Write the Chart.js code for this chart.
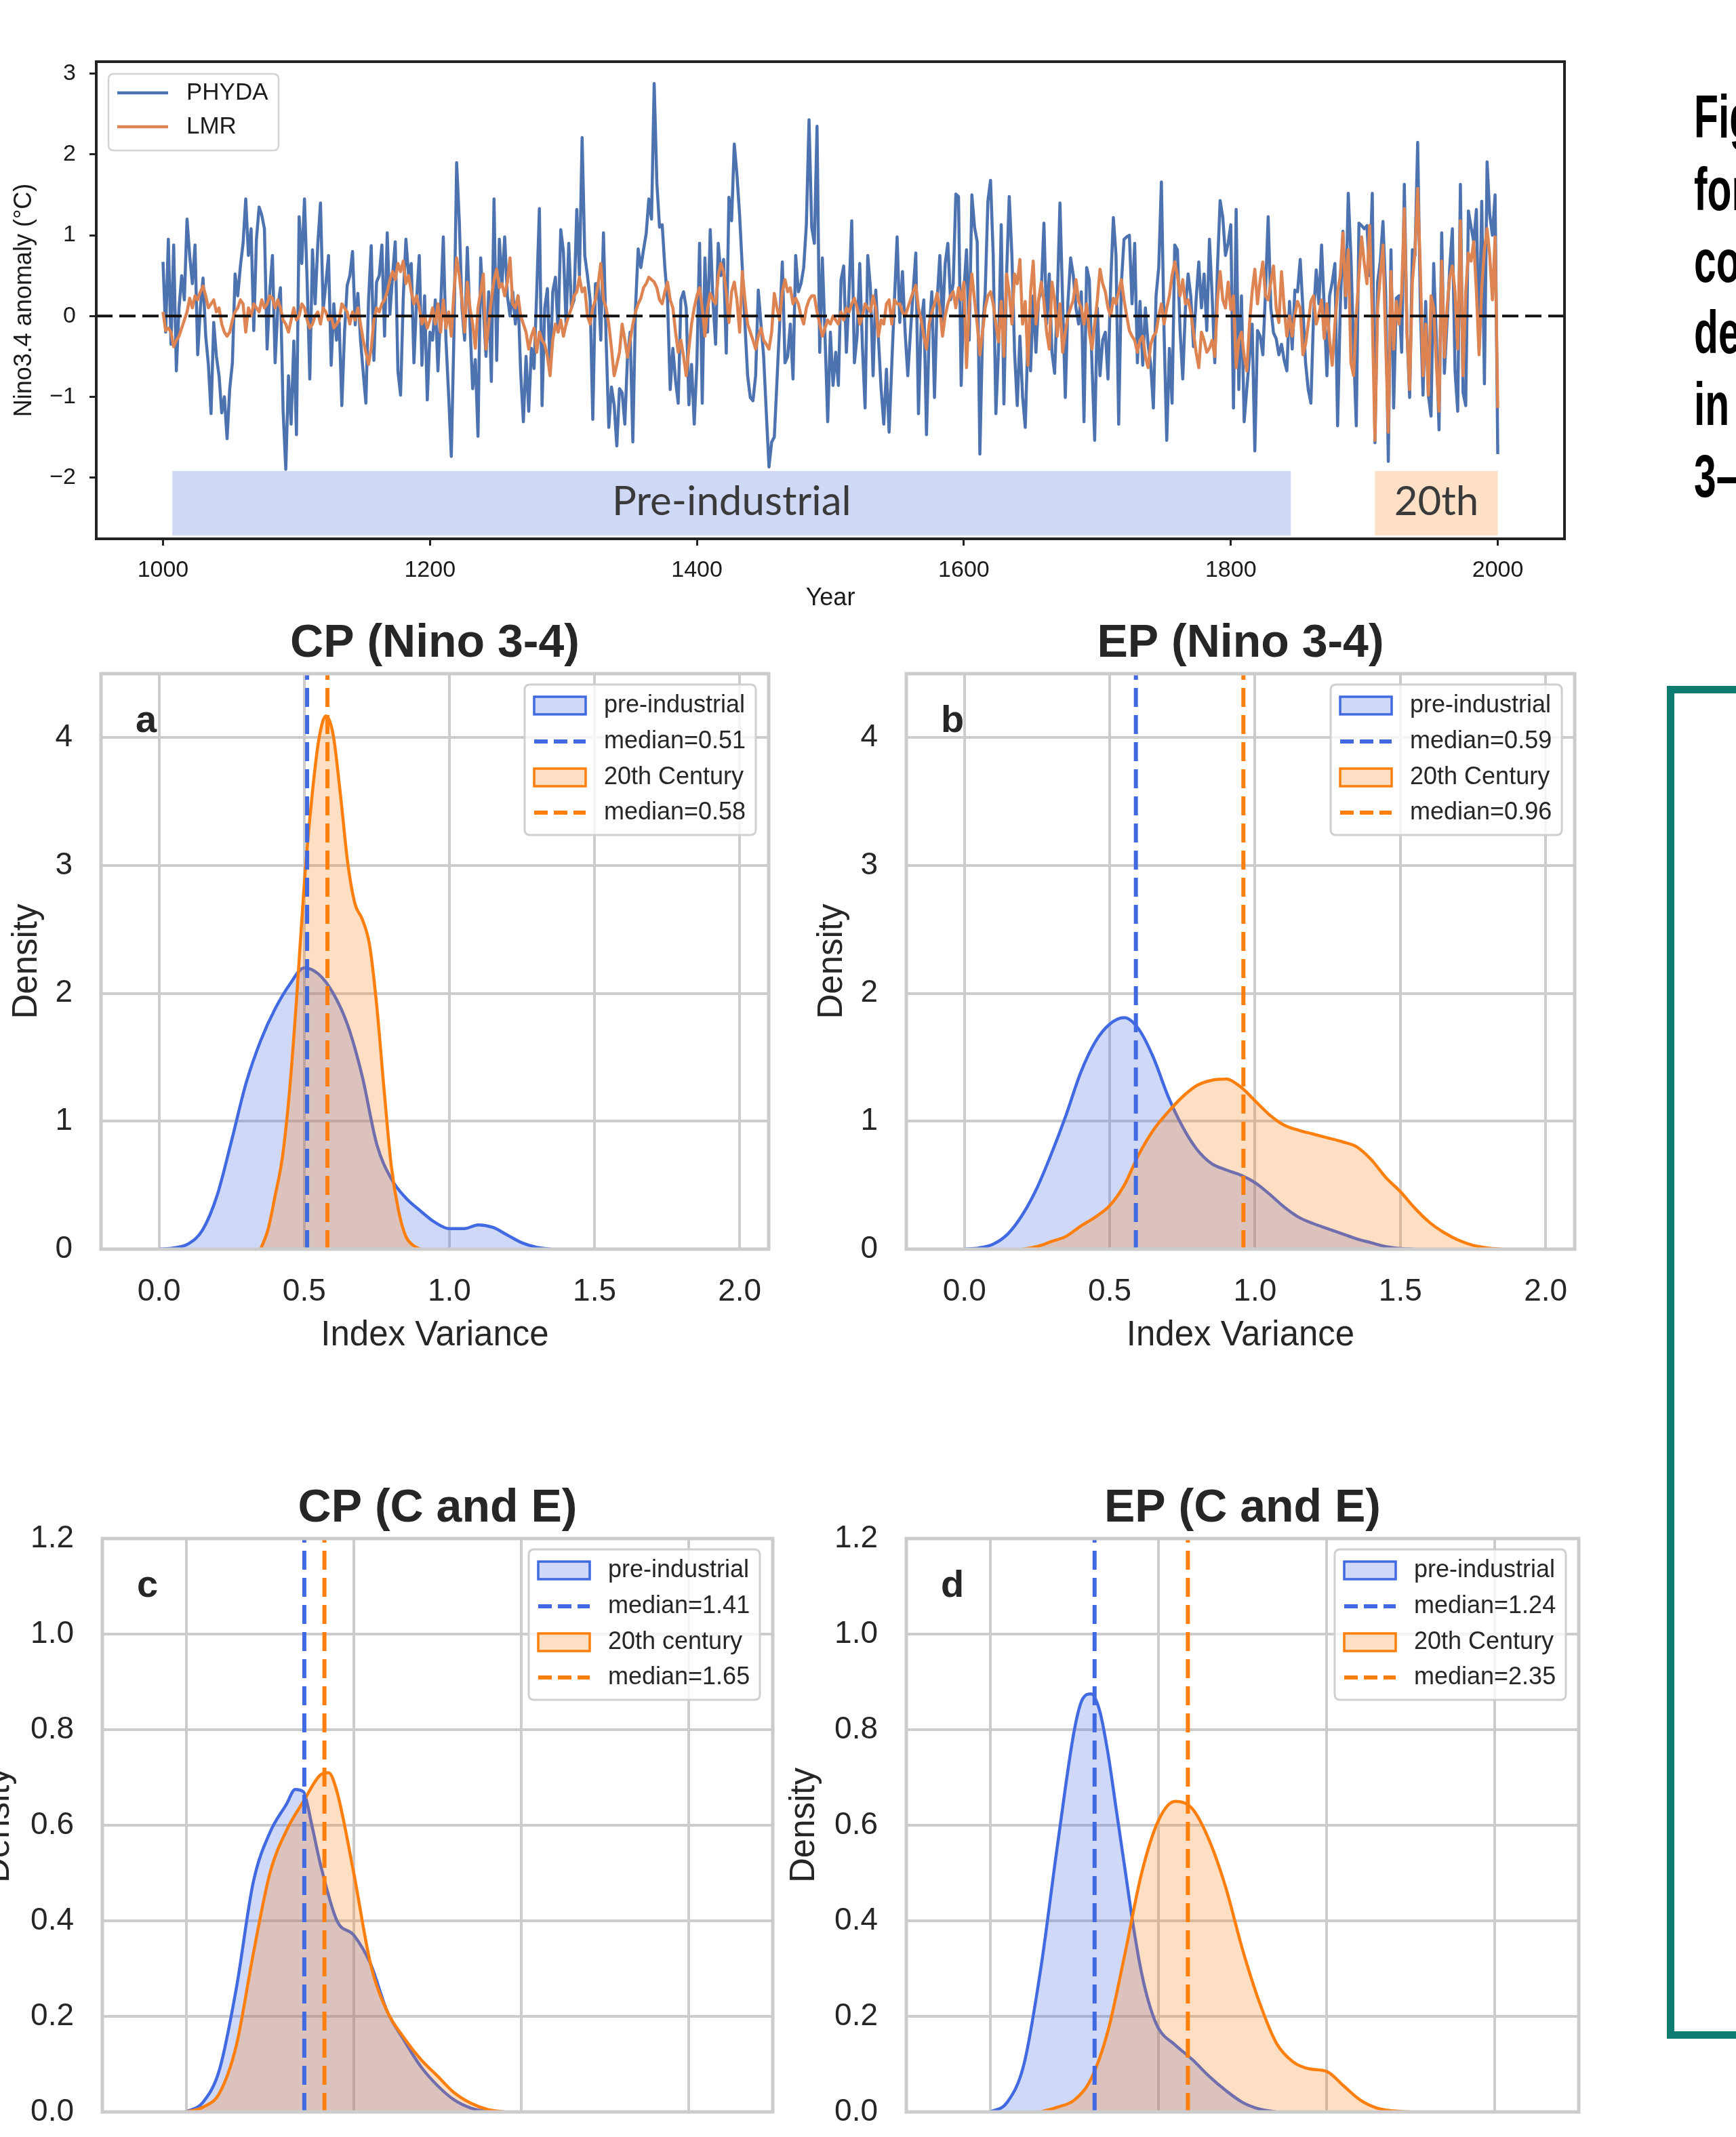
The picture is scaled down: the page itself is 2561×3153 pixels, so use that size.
<!DOCTYPE html>
<html lang="en">
<head>
<meta charset="UTF-8">
<title>Nino3.4 reconstructions and index variance</title>
<script src="https://cdn.jsdelivr.net/npm/chart.js"></script>
<style>
  html, body { margin: 0; padding: 0; background: #fff; overflow: hidden; }
  body { width: 2561px; height: 3153px; position: relative; }
  canvas { position: absolute; }
  .caption {
    position: absolute; left: 2499px; margin: 0;
    font-family: "Liberation Sans Narrow", "Liberation Sans", sans-serif;
    font-weight: bold; font-size: 84px; line-height: 84px; color: #000;
    white-space: nowrap; transform: scale(0.7, 1.05); transform-origin: 0 0;
  }
  #greenBox {
    position: absolute; left: 2459px; top: 1012px; width: 300px; height: 1996px;
    box-sizing: border-box; border: 11px solid #0d7c70;
  }
</style>
</head>
<body>
<canvas id="series" width="2330" height="905" style="left:0px;top:0px"></canvas>
<canvas id="panelA" width="1151" height="1102" style="left:9px;top:900px"></canvas>
<canvas id="panelB" width="1152" height="1102" style="left:1197px;top:900px"></canvas>
<canvas id="panelC" width="1192" height="1105" style="left:-32px;top:2170px"></canvas>
<canvas id="panelD" width="1193" height="1105" style="left:1156px;top:2170px"></canvas>

<div class="caption" style="top:128px">Fig</div>
<div class="caption" style="top:235px">for</div>
<div class="caption" style="top:341px">co</div>
<div class="caption" style="top:446px">de</div>
<div class="caption" style="top:552px">in</div>
<div class="caption" style="top:658px">3–</div>
<div id="greenBox"></div>

<script>
const FONT = '"Liberation Sans", Arial, sans-serif';
const TEXT = '#262626';

// ---- top panel: Nino3.4 anomaly, every 2 years from 1000
const firstYear = 1000;
const yearStep = 2;

const phyda1000 = [
  0.67, -0.2, 0.95, -0.35, 0.88, -0.68, 0.1, 0.5, 0.2, 1.2,
  0.75, 0.4, 0.88, -0.48, 0.1, 0.47, -0.25, -0.6, -1.21, -0.08,
  -0.5, -0.74, -1.2, -1.0, -1.52, -0.9, -0.58, 0.52, 0.25, 0.62,
  0.9, 1.45, 0.75, 1.08, -0.18, 0.95, 1.35, 1.25, 1.08, -0.41,
  0.3, 0.75, -0.58, 0.1, 0.35, -1.18, -1.9, -0.74, -1.34, -0.31,
  -1.47, 1.23, 0.65, 1.45, 0.42, -0.78, 0.82, 0.15, 0.9, 1.4,
  0.08, 0.4, 0.75, -0.61, 0.15, -0.3, -0.08, -1.11, -0.2, 0.38,
  0.5, 0.8, -0.11, 0.28, -0.3, -0.7, -1.08, 0.2, 0.87, -0.55,
  0.42, 0.5, 0.88, -0.25, 1.03, 0.02, 0.5, 0.92, -0.68, -0.98,
  0.22, 0.95, 0.5, 0.65, -0.58, 0.2, 0.75, -0.61, 0.25, -1.04,
  -0.2
];
const phyda1200 = [
  -0.3, 0.2, -0.68, 0.1, 0.98, -0.3, -0.98, -1.74, -0.2, 1.9,
  1.17, 0.1, -0.3, 0.85, -0.1, -0.9, -0.54, -1.49, 0.72, 0.1,
  -0.5, 0.3, -0.81, 1.45, -0.55, 0.95, 0.4, 0.98, 0.25, 0.0,
  0.3, -0.1, 0.25, -0.71, -1.31, -0.5, -1.18, -0.4, -0.65, 0.3,
  1.33, -1.11, 0.1, 0.34, -0.71, 0.3, 0.48, -0.2, 1.07, 0.8,
  -0.1, 0.9, 0.1, 0.2, 1.32, 0.5, 2.21, 0.75, 0.5, 0.2,
  -1.28, 0.4, 0.4, -0.3, 1.03, -0.3, -1.38, -0.88, -1.1, -1.61,
  -0.9, -0.95, -1.34, -0.5, -0.2, -1.56, 0.1, 0.83, 0.6, 0.82,
  1.02, 1.45, 1.2, 2.88, 1.65, 1.1, 1.13, 0.6, 0.2, -0.91,
  -0.4, -0.8, -1.08, 0.2, 0.3, 0.1, -1.1, -0.6, -1.34, -0.58
];
const phyda1400 = [
  0.9, -1.08, 0.72, -0.2, 1.07, 0.2, -0.35, 0.9, 0.5, 0.7,
  -0.46, 1.47, 1.18, 2.13, 1.75, 1.25, 0.6, -0.1, -0.74, -1.01,
  -1.05, -0.74, 0.32, -0.1, -0.5, -1.2, -1.87, -1.56, -1.5, -0.8,
  -0.1, 0.67, -0.58, -0.5, -0.1, -0.78, 0.75, 0.3, 0.4, 0.6,
  1.13, 2.43, 1.1, 0.9, 2.35, -0.45, 0.72, -0.25, -1.31, -0.2,
  -0.86, -0.45, -0.86, 0.45, 0.62, -0.45, 0.3, 1.18, -0.58, -0.25,
  0.65, -0.38, -1.14, 0.75, 0.35, -0.74, 0.32, -0.28, -0.9, -1.34,
  -0.66, -1.44, -0.6, 0.2, 0.98, -0.08, 0.55, -0.2, -0.74, -0.2,
  0.3, 0.78, -1.21, -0.1, 0.2, -1.47, -0.2, 0.3, -1.01, 0.2,
  0.75, -0.1, 0.65, 0.9, 0.2, 0.4, 1.51, 1.48, -0.86, 0.3
];
const phyda1600 = [
  0.82, -0.3, 1.5, 1.1, 0.92, -1.71, -0.2, 0.3, 1.42, 1.68,
  0.75, -1.21, -0.4, 1.13, -1.09, 0.5, 1.48, 0.75, -0.45, -1.11,
  -0.25, -1.0, -1.38, -0.25, -0.68, 0.25, -0.45, 0.2, 0.3, 1.15,
  -0.1, 0.52, -0.45, -0.71, 0.2, 1.4, 0.18, -1.01, 0.18, 0.72,
  0.5, 0.1, -0.1, 0.3, -1.31, 0.6, 0.45, -0.6, -1.54, 0.1,
  -0.74, -0.3, -0.2, -0.78, 0.4, 1.22, 0.75, -1.34, 0.4, 0.95,
  0.98, 1.0, 0.15, 0.9, -0.58, 0.18, -0.61, 0.1, -0.35, -0.6,
  -1.14, 0.25, 0.6, 1.66, -0.2, -1.54, -0.4, -1.08, 0.88, 0.82,
  -0.18, -0.78, 0.1, 0.52, 0.25, -0.38, 0.2, 0.67, 0.1, 0.52,
  -0.18, 0.95, 0.25, -0.58, 0.6, 1.43, 1.22, 0.75, 0.9, 1.13
];
const phyda1800 = [
  -1.14, 1.32, -0.91, 0.25, -1.31, -0.9, -0.5, -0.1, -1.67, -0.18,
  -0.25, -0.48, 0.3, 1.23, 0.1, -0.21, -0.28, -0.48, -0.35, -0.55,
  -0.68, 0.18, -0.41, 0.32, 0.3, 0.7, 0.1, -0.58, -0.91, -1.08,
  0.02, 0.57, 0.15, 0.88, 0.1, -0.74, 0.25, 0.42, 0.65, -1.36,
  0.1, 1.05, 0.1, 1.52, 0.73, -0.4, -1.36, 1.15, 1.12, 1.08,
  1.12, 0.5, 1.52, -1.57, 0.42, 0.68, 1.17, 0.3, -1.8, 0.82,
  -1.14, 0.22, 0.25, -0.45, 1.63, -0.2, -1.01, 0.82, 0.75, 2.15,
  0.1, -0.98, 0.18, -0.98, -1.24, 0.65, -0.3, -1.41, 1.03, -0.71,
  -0.08, 0.6, 1.08, -0.68, -1.18, 1.63, -0.95, -1.11, 1.3, 1.1,
  0.92, 1.32, -0.41, 1.42, -0.84, 1.91, 1.25, 1.0, 1.5, -1.71
];

const lmr1000 = [
  0.05, -0.18, -0.15, -0.2, -0.38, -0.3, -0.25, -0.15, -0.05, 0.05,
  0.22, 0.1, 0.25, 0.2, 0.3, 0.37, 0.25, 0.1, 0.15, 0.2,
  0.05, 0.1, -0.1, -0.2, -0.25, -0.2, -0.05, 0.05, 0.1, 0.2,
  0.15, -0.2, 0.1, 0.0, 0.15, 0.1, 0.05, 0.2, 0.1, 0.15,
  0.25, 0.22, 0.1, 0.2, 0.1, -0.05, -0.1, -0.2, -0.05, 0.1,
  -0.05, 0.0, 0.15, 0.1, -0.05, -0.15, -0.1, 0.0, 0.05, -0.1,
  0.1, 0.05, -0.05, 0.0, -0.15, -0.1, -0.05, 0.15, 0.1, 0.05,
  -0.1, 0.05, -0.05, 0.1, -0.1, -0.3, -0.45, -0.6, -0.4, -0.05,
  0.1, 0.05, 0.15, 0.2, 0.3, 0.45, 0.55, 0.45, 0.65, 0.55,
  0.68, 0.4, 0.5, 0.3, 0.15, 0.25, 0.1, -0.1, 0.0, -0.15,
  -0.05
];
const lmr1200 = [
  0.1, -0.1, 0.15, -0.2, 0.2, -0.15, 0.05, -0.25, 0.3, 0.72,
  0.5, 0.2, -0.2, 0.42, 0.1, -0.1, -0.4, 0.1, 0.3, 0.52,
  -0.41, -0.1, 0.2, 0.45, 0.58, 0.35, 0.4, 0.25, 0.42, 0.72,
  0.15, 0.1, 0.25, 0.0, -0.1, -0.2, -0.41, -0.25, -0.15, -0.45,
  -0.2, -0.3, -0.35, -0.5, -0.74, -0.3, -0.1, -0.2, -0.05, -0.25,
  -0.1, 0.0, 0.1, 0.25, 0.3, 0.48, 0.3, 0.35, 0.0, -0.1,
  0.1, 0.2, 0.4, 0.65, 0.2, 0.1, -0.1, -0.4, -0.74, -0.6,
  -0.45, -0.1, -0.3, -0.51, -0.3, -0.1, 0.05, 0.15, 0.22, 0.35,
  0.4, 0.48, 0.45, 0.42, 0.35, 0.2, 0.15, 0.3, 0.42, 0.2,
  0.1, -0.2, -0.45, -0.3, -0.5, -0.74, -0.4, -0.1, 0.1, 0.25
];
const lmr1400 = [
  0.35, 0.1, -0.25, 0.1, 0.28, 0.2, 0.15, 0.5, 0.65, 0.55,
  0.3, -0.08, 0.3, 0.42, 0.2, -0.2, 0.55, 0.2, -0.1, -0.2,
  -0.3, -0.41, -0.25, -0.15, -0.3, -0.35, -0.41, -0.2, 0.28, 0.1,
  -0.05, 0.3, 0.45, 0.3, 0.35, 0.15, 0.22, 0.15, 0.0, -0.1,
  0.1, 0.2, 0.25, 0.25, 0.05, -0.1, -0.25, -0.15, -0.05, -0.1,
  0.0, -0.05, -0.1, 0.05, -0.05, 0.1, 0.05, 0.15, 0.22, 0.1,
  -0.1, 0.0, 0.15, 0.1, 0.05, 0.25, 0.1, -0.25, -0.05, -0.1,
  0.15, 0.2, -0.1, 0.2, 0.15, 0.15, 0.05, 0.0, 0.1, 0.2,
  0.3, 0.38, 0.1, -0.05, -0.25, -0.41, -0.1, 0.05, 0.15, 0.28,
  0.1, -0.25, 0.0, 0.15, 0.25, 0.3, 0.1, 0.35, 0.2, 0.42
];
const lmr1600 = [
  -0.64, 0.12, 0.52, 0.2, -0.1, -0.48, -0.2, 0.1, 0.25, 0.3,
  0.15, -0.1, -0.32, 0.18, -0.5, 0.52, 0.3, -0.1, 0.52, 0.4,
  0.7, -0.1, 0.18, -0.61, 0.3, 0.68, -0.1, 0.2, 0.42, 0.18,
  -0.2, -0.41, 0.42, 0.2, -0.25, 0.15, -0.45, -0.2, 0.0, 0.1,
  0.2, 0.45, 0.18, 0.1, -0.1, 0.15, -0.2, -0.41, -0.1, 0.2,
  0.58, 0.4, 0.3, 0.1, 0.0, 0.22, 0.15, 0.3, 0.45, 0.2,
  0.0, -0.18, -0.25, -0.3, -0.45, -0.3, -0.25, -0.5, -0.64, -0.35,
  -0.25, -0.2, 0.0, 0.15, -0.1, 0.1, 0.25, 0.5, 0.67, 0.5,
  0.25, 0.45, 0.15, 0.2, 0.05, -0.2, -0.45, -0.64, -0.2, -0.3,
  -0.45, -0.4, -0.3, -0.5, 0.2, 0.55, 0.2, 0.1, 0.42, 0.08
];
const lmr1800 = [
  0.25, -0.64, -0.3, -0.2, -0.5, -0.68, -0.1, 0.3, 0.58, 0.15,
  0.45, 0.67, 0.25, 0.2, 0.42, 0.62, 0.1, -0.08, 0.55, 0.1,
  -0.25, 0.0, -0.25, 0.02, 0.18, 0.1, -0.48, -0.35, -0.1, 0.18,
  0.25, -0.1, 0.02, 0.2, -0.28, 0.15, -0.3, -0.61, -0.1, 0.3,
  0.5, 1.03, 0.25, 0.82, -0.58, -0.74, 0.0, 0.5, 0.98, 0.65,
  0.4, 1.12, 0.0, -1.54, 0.1, 0.5, 0.88, -0.3, -1.44, 0.55,
  -0.41, 0.18, -0.1, 0.3, 1.33, -0.2, -0.91, 0.42, 0.8, 1.58,
  0.58, -0.74, -0.1, -0.98, 0.25, 0.1, -0.6, -1.18, 0.68, -0.51,
  0.1, 0.48, 0.62, 0.3, -0.41, 1.18, -0.74, 0.3, 0.78, 0.68,
  0.92, 0.3, -0.48, 0.35, 0.82, 1.08, 0.75, 0.2, 0.98, -1.14
];

const phyda = phyda1000.concat(phyda1200, phyda1400, phyda1600, phyda1800);
const lmr = lmr1000.concat(lmr1200, lmr1400, lmr1600, lmr1800);

const yearTicks = [1000, 1200, 1400, 1600, 1800, 2000];
const anomalyTicks = [-2, -1, 0, 1, 2, 3];
const bandNames = ['Pre-industrial', '20th'];
const bandFrom = [1007, 1908];
const bandTo = [1845, 2000];

// ---- KDE panels (x = index variance, density)
const aPreX = [0, 0.05, 0.1, 0.15, 0.2, 0.25, 0.3, 0.35, 0.4, 0.45, 0.5, 0.55, 0.6, 0.65, 0.7, 0.75, 0.8, 0.85, 0.9, 0.95, 1.0, 1.05, 1.1, 1.15, 1.2, 1.25, 1.3, 1.35];
const aPreD = [0, 0.01, 0.04, 0.15, 0.42, 0.85, 1.3, 1.63, 1.88, 2.07, 2.2, 2.15, 2.0, 1.75, 1.35, 0.82, 0.55, 0.4, 0.3, 0.21, 0.16, 0.16, 0.19, 0.17, 0.11, 0.05, 0.015, 0];
const a20X = [0.35, 0.375, 0.4, 0.425, 0.45, 0.475, 0.5, 0.525, 0.55, 0.575, 0.6, 0.625, 0.65, 0.675, 0.7, 0.725, 0.75, 0.775, 0.8, 0.825, 0.85, 0.875, 0.9];
const a20D = [0, 0.15, 0.42, 0.72, 1.25, 2.0, 2.85, 3.5, 3.98, 4.17, 4.02, 3.55, 3.02, 2.7, 2.58, 2.38, 1.9, 1.25, 0.65, 0.3, 0.1, 0.03, 0];

const bPreX = [0, 0.05, 0.1, 0.15, 0.2, 0.25, 0.3, 0.35, 0.4, 0.45, 0.5, 0.55, 0.6, 0.65, 0.7, 0.75, 0.8, 0.85, 0.9, 0.95, 1.0, 1.05, 1.1, 1.15, 1.2, 1.25, 1.3, 1.35, 1.4, 1.45, 1.5, 1.55];
const bPreD = [0, 0.01, 0.04, 0.12, 0.27, 0.48, 0.75, 1.05, 1.38, 1.62, 1.76, 1.81, 1.72, 1.5, 1.2, 0.96, 0.78, 0.67, 0.62, 0.58, 0.52, 0.43, 0.33, 0.25, 0.2, 0.16, 0.12, 0.08, 0.05, 0.02, 0.005, 0];
const b20X = [0.2, 0.25, 0.3, 0.35, 0.4, 0.45, 0.5, 0.55, 0.6, 0.65, 0.7, 0.75, 0.8, 0.85, 0.9, 0.95, 1.0, 1.05, 1.1, 1.15, 1.2, 1.25, 1.3, 1.35, 1.4, 1.45, 1.5, 1.55, 1.6, 1.65, 1.7, 1.75, 1.8, 1.85];
const b20D = [0, 0.02, 0.06, 0.1, 0.18, 0.25, 0.34, 0.5, 0.74, 0.93, 1.07, 1.19, 1.28, 1.32, 1.33, 1.27, 1.16, 1.05, 0.97, 0.93, 0.9, 0.87, 0.84, 0.8, 0.7, 0.56, 0.45, 0.32, 0.21, 0.13, 0.07, 0.03, 0.01, 0];

const cPreX = [0, 0.2, 0.4, 0.6, 0.8, 1.0, 1.2, 1.3, 1.4, 1.5, 1.6, 1.8, 2.0, 2.2, 2.4, 2.6, 2.8, 3.0, 3.2, 3.4, 3.6];
const cPreD = [0, 0.02, 0.09, 0.26, 0.48, 0.585, 0.645, 0.675, 0.67, 0.6, 0.52, 0.4, 0.37, 0.31, 0.21, 0.15, 0.095, 0.055, 0.025, 0.008, 0];
const c20X = [0, 0.2, 0.4, 0.6, 0.8, 1.0, 1.2, 1.4, 1.6, 1.7, 1.8, 2.0, 2.2, 2.4, 2.6, 2.8, 3.0, 3.2, 3.4, 3.6, 3.8];
const c20D = [0, 0.01, 0.04, 0.14, 0.33, 0.5, 0.59, 0.65, 0.705, 0.71, 0.67, 0.5, 0.31, 0.21, 0.155, 0.11, 0.075, 0.04, 0.018, 0.005, 0];

const dPreX = [0, 0.2, 0.4, 0.6, 0.8, 1.0, 1.1, 1.2, 1.3, 1.4, 1.5, 1.6, 1.7, 1.8, 1.9, 2.0, 2.2, 2.4, 2.6, 2.8, 3.0, 3.2, 3.4];
const dPreD = [0, 0.02, 0.1, 0.3, 0.56, 0.8, 0.865, 0.875, 0.84, 0.75, 0.63, 0.51, 0.39, 0.29, 0.22, 0.175, 0.14, 0.11, 0.075, 0.045, 0.02, 0.006, 0];
const d20X = [0.6, 0.8, 1.0, 1.2, 1.4, 1.6, 1.8, 2.0, 2.2, 2.4, 2.6, 2.8, 3.0, 3.2, 3.4, 3.6, 3.8, 4.0, 4.2, 4.4, 4.6, 4.8, 5.0];
const d20D = [0, 0.01, 0.025, 0.07, 0.17, 0.33, 0.5, 0.61, 0.65, 0.635, 0.57, 0.47, 0.34, 0.23, 0.145, 0.105, 0.09, 0.085, 0.055, 0.025, 0.008, 0.002, 0];

const medians = { a: [0.51, 0.58], b: [0.59, 0.96], c: [1.41, 1.65], d: [1.24, 2.35] };
const varTicksTop = [0, 0.5, 1.0, 1.5, 2.0];
const varTicksBottom = [0, 2, 4, 6];
const densTicksTop = [0, 1, 2, 3, 4];
const densTicksBottom = [0, 0.2, 0.4, 0.6, 0.8, 1.0, 1.2];

const BLUE = '#4169e1';
const ORANGE = '#ff7f0e';
const BLUE_FILL = 'rgba(65,105,225,0.25)';
const ORANGE_FILL = 'rgba(255,127,14,0.25)';

const pts = (xs, ys) => xs.map((x, i) => ({ x: x, y: ys[i] }));
const yearly = vals => vals.map((v, i) => ({ x: firstYear + i * yearStep, y: v }));
const minus = v => (v < 0 ? '\u2212' + Math.abs(v) : String(v));

function roundBox(ctx, x, y, w, h, r) {
  ctx.beginPath();
  ctx.moveTo(x + r, y);
  ctx.lineTo(x + w - r, y);
  ctx.quadraticCurveTo(x + w, y, x + w, y + r);
  ctx.lineTo(x + w, y + h - r);
  ctx.quadraticCurveTo(x + w, y + h, x + w - r, y + h);
  ctx.lineTo(x + r, y + h);
  ctx.quadraticCurveTo(x, y + h, x, y + h - r);
  ctx.lineTo(x, y + r);
  ctx.quadraticCurveTo(x, y, x + r, y);
  ctx.closePath();
}

// bands, frame and legend of the time series
const seriesDecor = {
  id: 'seriesDecor',
  beforeDatasetsDraw(chart) {
    const { ctx, scales: { x, y } } = chart;
    const yTop = y.getPixelForValue(-1.92), yBot = y.getPixelForValue(-2.72);
    const colors = ['#cfd8f5', '#fde0c6'];
    ctx.save();
    bandNames.forEach((name, i) => {
      const x0 = x.getPixelForValue(bandFrom[i]), x1 = x.getPixelForValue(bandTo[i]);
      ctx.fillStyle = colors[i];
      ctx.fillRect(x0, yTop, x1 - x0, yBot - yTop);
      ctx.fillStyle = '#3a3a3a';
      ctx.font = '60px Lato, "Open Sans", sans-serif';
      ctx.textAlign = 'center';
      ctx.textBaseline = 'middle';
      ctx.fillText(name, (x0 + x1) / 2, (yTop + yBot) / 2 - 2);
    });
    ctx.restore();
  },
  afterDraw(chart) {
    const { ctx, chartArea: a } = chart;
    ctx.save();
    ctx.strokeStyle = '#222';
    ctx.lineWidth = 4;
    ctx.strokeRect(a.left, a.top, a.right - a.left, a.bottom - a.top);

    const bx = a.left + 18, by = a.top + 18;
    roundBox(ctx, bx, by, 251, 113, 8);
    ctx.fillStyle = 'rgba(255,255,255,0.85)';
    ctx.fill();
    ctx.strokeStyle = '#d4d4d4';
    ctx.lineWidth = 2.5;
    ctx.stroke();
    [['PHYDA', '#4c72b0'], ['LMR', '#dd8452']].forEach(([name, col], i) => {
      const ry = by + 28 + i * 50;
      ctx.strokeStyle = col;
      ctx.lineWidth = 4.5;
      ctx.beginPath();
      ctx.moveTo(bx + 13, ry);
      ctx.lineTo(bx + 88, ry);
      ctx.stroke();
      ctx.fillStyle = '#1a1a1a';
      ctx.font = '35px ' + FONT;
      ctx.textAlign = 'left';
      ctx.textBaseline = 'middle';
      ctx.fillText(name, bx + 115, ry);
    });
    ctx.restore();
  }
};

new Chart(document.getElementById('series'), {
  type: 'line',
  data: {
    datasets: [
      { label: 'zero', data: [{ x: 950, y: 0 }, { x: 2050, y: 0 }], borderColor: '#111', borderWidth: 4, borderDash: [24, 10], order: 0 },
      { label: 'LMR', data: yearly(lmr), borderColor: '#dd8452', borderWidth: 4.5, order: 1 },
      { label: 'PHYDA', data: yearly(phyda), borderColor: '#4c72b0', borderWidth: 4.5, order: 2 }
    ]
  },
  options: {
    responsive: false,
    animation: false,
    devicePixelRatio: 1,
    layout: { padding: { left: 0, right: 22, top: 91, bottom: 0 } },
    elements: { point: { radius: 0 }, line: { tension: 0, borderJoinStyle: 'round' } },
    plugins: { legend: { display: false }, tooltip: { enabled: false } },
    scales: {
      x: {
        type: 'linear', min: 950, max: 2050,
        afterBuildTicks: s => { s.ticks = yearTicks.map(v => ({ value: v })); },
        afterFit: s => { s.height = 110; },
        grid: { drawOnChartArea: false, drawTicks: true, tickLength: 10, tickWidth: 3, tickColor: '#222' },
        border: { display: false },
        ticks: { font: { family: FONT, size: 34 }, color: '#1a1a1a', padding: 16, maxRotation: 0, callback: v => String(v) },
        title: { display: true, text: 'Year', font: { family: FONT, size: 36, lineHeight: 1.2 }, color: '#1a1a1a', padding: 0 }
      },
      y: {
        type: 'linear', min: -2.76, max: 3.15,
        afterBuildTicks: s => { s.ticks = anomalyTicks.map(v => ({ value: v })); },
        afterFit: s => { s.width = 142; },
        grid: { drawOnChartArea: false, drawTicks: true, tickLength: 10, tickWidth: 3, tickColor: '#222' },
        border: { display: false },
        ticks: { font: { family: FONT, size: 34 }, color: '#1a1a1a', padding: 20, callback: minus },
        title: { display: true, text: 'Nino3.4 anomaly (°C)', font: { family: FONT, size: 36, lineHeight: 1.2 }, color: '#1a1a1a', padding: { top: 14, bottom: 0 } }
      }
    }
  },
  plugins: [seriesDecor]
});

// frame, title, panel letter and legend of a KDE panel
const panelDecor = {
  id: 'panelDecor',
  afterDatasetsDraw(chart, args, opts) {
    const { ctx, chartArea: a } = chart;
    ctx.save();
    ctx.strokeStyle = '#cccccc';
    ctx.lineWidth = 5;
    ctx.strokeRect(a.left, a.top, a.right - a.left, a.bottom - a.top);

    ctx.fillStyle = TEXT;
    ctx.textBaseline = 'alphabetic';
    ctx.font = 'bold 68px ' + FONT;
    ctx.textAlign = 'center';
    ctx.fillText(opts.title, (a.left + a.right) / 2, a.top - 25);
    ctx.font = 'bold 56px ' + FONT;
    ctx.textAlign = 'left';
    ctx.fillText(opts.letter, a.left + 51, a.top + 86);

    const w = 341, h = 222, bx = a.right - 19 - w, by = a.top + 16;
    roundBox(ctx, bx, by, w, h, 8);
    ctx.fillStyle = 'rgba(255,255,255,0.8)';
    ctx.fill();
    ctx.strokeStyle = '#d0d0d0';
    ctx.lineWidth = 3;
    ctx.stroke();

    const rows = [31, 84, 137, 189];
    opts.labels.forEach((txt, i) => {
      const ry = by + rows[i];
      const col = i < 2 ? BLUE : ORANGE;
      if (i % 2 === 0) {
        ctx.fillStyle = i < 2 ? BLUE_FILL : ORANGE_FILL;
        ctx.fillRect(bx + 14, ry - 13, 76, 26);
        ctx.strokeStyle = col;
        ctx.lineWidth = 3.5;
        ctx.strokeRect(bx + 14, ry - 13, 76, 26);
      } else {
        ctx.strokeStyle = col;
        ctx.lineWidth = 6;
        ctx.setLineDash([20, 9]);
        ctx.beginPath();
        ctx.moveTo(bx + 14, ry);
        ctx.lineTo(bx + 90, ry);
        ctx.stroke();
        ctx.setLineDash([]);
      }
      ctx.fillStyle = TEXT;
      ctx.font = '36px ' + FONT;
      ctx.textAlign = 'left';
      ctx.textBaseline = 'middle';
      ctx.fillText(txt, bx + 117, ry);
    });
    ctx.restore();
  }
};

function panelChart(id, p) {
  return new Chart(document.getElementById(id), {
    type: 'line',
    data: {
      datasets: [
        { data: pts([p.med[1], p.med[1]], [0, p.yMax]), borderColor: ORANGE, borderWidth: 6, borderDash: [28, 12], order: 0 },
        { data: pts([p.med[0], p.med[0]], [0, p.yMax]), borderColor: BLUE, borderWidth: 6, borderDash: [28, 12], order: 1 },
        { data: pts(p.x20, p.d20), borderColor: ORANGE, backgroundColor: ORANGE_FILL, fill: 'origin', borderWidth: 4.5, cubicInterpolationMode: 'monotone', order: 2 },
        { data: pts(p.xPre, p.dPre), borderColor: BLUE, backgroundColor: BLUE_FILL, fill: 'origin', borderWidth: 4.5, cubicInterpolationMode: 'monotone', order: 3 }
      ]
    },
    options: {
      responsive: false,
      animation: false,
      devicePixelRatio: 1,
      layout: { padding: { left: 0, right: 20, top: p.padTop, bottom: 0 } },
      elements: { point: { radius: 0 }, line: { borderJoinStyle: 'round' } },
      plugins: {
        legend: { display: false },
        tooltip: { enabled: false },
        panelDecor: { title: p.title, letter: p.letter, labels: p.labels }
      },
      scales: {
        x: {
          type: 'linear', min: p.xMin, max: p.xMax,
          afterBuildTicks: s => { s.ticks = p.xTicks.map(v => ({ value: v })); },
          afterFit: s => { s.height = 159; },
          grid: { color: '#cccccc', lineWidth: 4, drawTicks: false },
          border: { display: false },
          ticks: { font: { family: FONT, size: 46 }, color: TEXT, padding: 36, maxRotation: 0, callback: p.xFmt },
          title: { display: true, text: 'Index Variance', font: { family: FONT, size: 51, lineHeight: 1.2 }, color: TEXT, padding: 0 }
        },
        y: {
          type: 'linear', min: 0, max: p.yMax,
          afterBuildTicks: s => { s.ticks = p.yTicks.map(v => ({ value: v })); },
          afterFit: s => { s.width = p.yWidth; },
          grid: { color: '#cccccc', lineWidth: 4, drawTicks: false },
          border: { display: false },
          ticks: { font: { family: FONT, size: 46 }, color: TEXT, padding: 42, callback: p.yFmt },
          title: { display: true, text: 'Density', font: { family: FONT, size: 51, lineHeight: 1.2 }, color: TEXT, padding: 0 }
        }
      }
    },
    plugins: [panelDecor]
  });
}

const fmt1 = v => v.toFixed(1);
const fmt0 = v => String(v);

panelChart('panelA', {
  title: 'CP (Nino 3-4)', letter: 'a',
  labels: ['pre-industrial', 'median=0.51', '20th Century', 'median=0.58'],
  xPre: aPreX, dPre: aPreD, x20: a20X, d20: a20D, med: medians.a,
  xMin: -0.2, xMax: 2.1, yMax: 4.5, xTicks: varTicksTop, yTicks: densTicksTop,
  xFmt: fmt1, yFmt: fmt0, yWidth: 140, padTop: 94
});
panelChart('panelB', {
  title: 'EP (Nino 3-4)', letter: 'b',
  labels: ['pre-industrial', 'median=0.59', '20th Century', 'median=0.96'],
  xPre: bPreX, dPre: bPreD, x20: b20X, d20: b20D, med: medians.b,
  xMin: -0.2, xMax: 2.1, yMax: 4.5, xTicks: varTicksTop, yTicks: densTicksTop,
  xFmt: fmt1, yFmt: fmt0, yWidth: 140, padTop: 94
});
panelChart('panelC', {
  title: 'CP (C and E)', letter: 'c',
  labels: ['pre-industrial', 'median=1.41', '20th century', 'median=1.65'],
  xPre: cPreX, dPre: cPreD, x20: c20X, d20: c20D, med: medians.c,
  xMin: -1, xMax: 7, yMax: 1.2, xTicks: varTicksBottom, yTicks: densTicksBottom,
  xFmt: fmt0, yFmt: fmt1, yWidth: 183, padTop: 100
});
panelChart('panelD', {
  title: 'EP (C and E)', letter: 'd',
  labels: ['pre-industrial', 'median=1.24', '20th Century', 'median=2.35'],
  xPre: dPreX, dPre: dPreD, x20: d20X, d20: d20D, med: medians.d,
  xMin: -1, xMax: 7, yMax: 1.2, xTicks: varTicksBottom, yTicks: densTicksBottom,
  xFmt: fmt0, yFmt: fmt1, yWidth: 181, padTop: 100
});
</script>
</body>
</html>
